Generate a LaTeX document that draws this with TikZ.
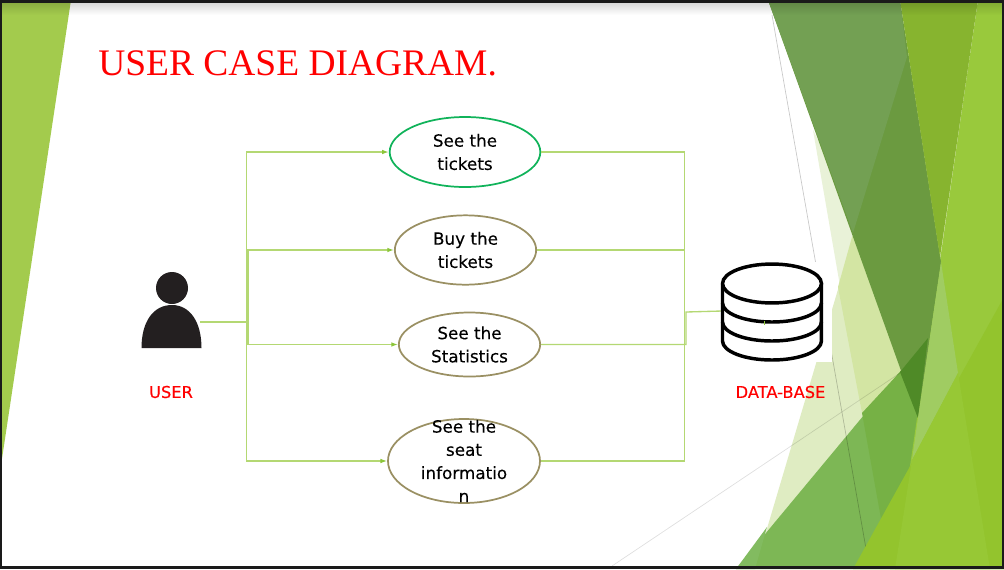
\documentclass[tikz,border=0pt]{standalone}
\usepackage{fontspec}
\setmainfont{DejaVu Sans}
\newfontfamily\titlefont{Liberation Serif}
\usetikzlibrary{shapes.geometric,arrows.meta}
\definecolor{linkgreen}{HTML}{B4D873}
\definecolor{tipgreen}{HTML}{8CC63A}
\definecolor{olive}{HTML}{9A9063}
\definecolor{ovalgreen}{HTML}{10B35A}
\definecolor{inkblack}{HTML}{231F20}
\definecolor{frameblack}{HTML}{1A1A1A}
\definecolor{fa}{HTML}{A3CB4D}
\definecolor{fb}{HTML}{DFECC2}
\definecolor{fc}{HTML}{E9F2D8}
\definecolor{fd}{HTML}{D3E5A3}
\definecolor{fe}{HTML}{99C93C}
\definecolor{ff}{HTML}{7DB755}
\definecolor{fg}{HTML}{82BB60}
\definecolor{fh}{HTML}{76B145}
\definecolor{fi}{HTML}{6B9A40}
\definecolor{fj}{HTML}{73A053}
\definecolor{fk}{HTML}{87B42F}
\definecolor{fl}{HTML}{4F8A27}
\definecolor{fm}{HTML}{A0CC62}
\definecolor{fn}{HTML}{93C42D}
\definecolor{fo}{HTML}{97C835}
\tikzset{
  usecase/.style={ellipse,draw=olive,line width=1.3pt,fill=white,inner sep=0pt,align=center,font=\fontsize{12.6}{17.4}\selectfont\addfontfeature{FakeBold=0.2}},
  caselabel/.style={align=center,inner sep=0pt,font=\fontsize{12.6}{17.4}\selectfont\addfontfeature{FakeBold=0.2}},
  link/.style={draw=linkgreen,line width=1pt},
  linkto/.style={link,-{Latex[length=5pt,width=3.5pt,color=tipgreen]}},
  actorlabel/.style={text=red,inner sep=0pt,font=\fontsize{12.2}{14}\selectfont\addfontfeature{FakeBold=0.3}},
  dbline/.style={draw=black,line width=2.6pt},
  thingrey/.style={draw=black,opacity=.22,line width=.5pt},
  paleline/.style={draw=black,opacity=.13,line width=.5pt},
}
\begin{document}
\begin{tikzpicture}[x=.75pt,y=-.75pt]
\useasboundingbox (0,0) rectangle (1004,569);
\fill[white] (0,0) rectangle (1004,569);
% left facet
\fill[fa] (0,0) -- (71,0) -- (0,472) -- cycle;
% right facets: pale
\fill[fb] (755,569) -- (907,57) -- (1004,57) -- (1004,569) -- cycle;
\fill[fc] (813,130) -- (862,413) -- (880,569) -- (900,300) -- cycle;
\fill[fd] (852,237) -- (838,287) -- (862,413) -- (910,380) -- (880,200) -- cycle;
% mid greens
\fill[ff] (736,569) -- (928,338) -- (1004,250) -- (1004,569) -- cycle;
\fill[fg] (736,569) -- (767,527) -- (755,569) -- cycle;
\fill[fh] (862,413) -- (880,513) -- (890,569) -- (895,569) -- (925,400) -- (925,338) -- (900,372) -- cycle;
% thin lines
\draw[paleline] (612,566) -- (900,373);
\draw[thingrey] (772,15) -- (868,560);
% database backing
\node[fill=white,inner sep=0pt,minimum width=82.5pt,minimum height=75pt] (dbbox) at (777,312) {};
% bright facet
\fill[fe] (978,0) -- (1004,0) -- (1004,569) -- (895,569) -- cycle;
% dark facet
\fill[fi] (768,0) -- (900,0) -- (941,262) -- (918,418) -- cycle;
\fill[fk] (900,0) -- (978,0) -- (940,257) -- cycle;
\fill[fj] (768,0) -- (900,0) -- (907,57) -- (853,233) -- cycle;
\fill[fl] (900,372) -- (928,338) -- (918,418) -- cycle;
% pale overlap on the bright facet
\fill[fm] (941,262) -- (958,373) -- (912,460) -- (918,418) -- cycle;
% lower right bright facet
\fill[fn] (853,569) -- (1004,297) -- (1004,569) -- cycle;
\fill[fo] (912,460) -- (958,373) -- (990,569) -- (895,569) -- cycle;
% top shadow
\foreach \i in {0,...,11}
  \fill[black,opacity={0.012*(12-\i)}] (0,3+\i) rectangle (1004,4+\i);
% title
\node[anchor=base west,inner sep=0pt,text=red,font=\titlefont\fontsize{28.1}{30}\selectfont] (title) at (98,75) {USER CASE DIAGRAM.};
% use cases
\node[usecase,draw=ovalgreen,minimum width=113pt,minimum height=52.5pt] (seetickets) at (465,152) {See the\\tickets};
\node[usecase,minimum width=106pt,minimum height=52pt] (buy) at (465.5,250) {Buy the\\tickets};
\node[usecase,minimum width=106pt,minimum height=48pt] (stats) at (469.5,344.5) {See the\\Statistics};
\node[usecase,minimum width=114pt,minimum height=63pt] (seat) at (464,461) {};
\node[caselabel] (seatlabel) at (464,461) {See the\\seat\\informatio\\n};
% person
\fill[inkblack] (172,288) circle[radius=12pt];
\fill[inkblack] (141.5,348) .. controls (141.5,322) and (153,305) .. (172,305) .. controls (190,305) and (201.5,322) .. (201.5,348) -- cycle;
\coordinate (user) at (200,322);
\node[actorlabel] (userlabel) at (171,392) {USER};
% connectors
\coordinate (busW) at (246.5,322);
\coordinate (busE) at (684.5,312);
\coordinate (dbin) at (722,311);
\draw[link] (user) -- (busW);
\draw[linkto] (busW) |- (seetickets.west);
\draw[linkto] (busW) |- (seat.west);
\draw[linkto] (248,322) |- (buy.west);
\draw[linkto] (248,322) |- (stats.west);
\draw[link] (seetickets.east) -| (busE);
\draw[link] (buy.east) -| (busE);
\draw[link] (seat.east) -| (busE);
\draw[link] (stats.east) -| (686,312) -- (dbin);
% database
\draw[dbline,fill=white] (722.5,283.5) -- (722.5,341) arc[start angle=180,end angle=360,x radius=37.1pt,y radius=14.25pt] -- (821.5,283.5);
\draw[dbline,fill=white] (772,283.5) ellipse[x radius=37.1pt,y radius=14.6pt];
\draw[dbline] (722.5,303) arc[start angle=180,end angle=360,x radius=37.1pt,y radius=14.25pt];
\draw[dbline] (722.5,322) arc[start angle=180,end angle=360,x radius=37.1pt,y radius=14.25pt];
\draw[tipgreen,line width=.8pt] (764.5,321) -- (764.5,325);
\node[actorlabel] (dblabel) at (780.5,392) {DATA-BASE};
% frame
\fill[frameblack] (0,0) rectangle (1004,3);
\fill[frameblack] (0,566) rectangle (1004,569);
\fill[frameblack] (0,0) rectangle (2,569);
\fill[frameblack] (1002,0) rectangle (1004,569);
\end{tikzpicture}
\end{document}
